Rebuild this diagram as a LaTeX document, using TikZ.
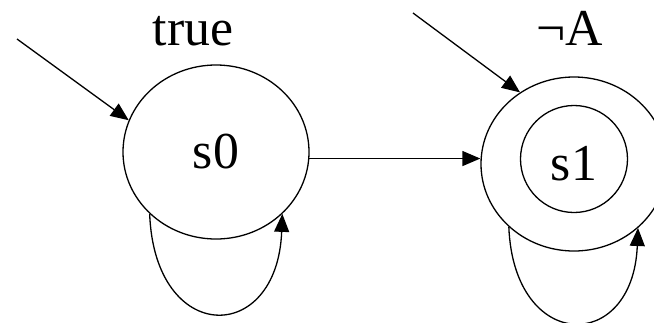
\documentclass[tikz,border=0pt]{standalone}
\usepackage{fontspec}
\setmainfont{Liberation Serif}
\usetikzlibrary{shapes.geometric, arrows.meta}

\begin{document}
\begin{tikzpicture}[x=1bp, y=-1bp, line width=1.3bp,
    font=\fontsize{52}{62}\selectfont,
    >={Triangle[length=18bp, width=15bp]},
    state/.style={ellipse, draw, inner sep=0pt, minimum width=186bp, minimum height=174bp},
    ring/.style={circle, draw, inner sep=0pt, minimum size=107bp}]
    \clip (0,0) rectangle (654,322);

    % Draw nodes
    \node[state] (s0) at (216,152) {s0};
    \node[state] (s1) at (574,164) {s1};
    \node[ring] (s1in) at (574,159) {};

    % Start points of the initial arrows
    \coordinate (in0) at (17,39);
    \coordinate (in1) at (413,13);

    % Draw connections
    \draw[->] (in0) -- (s0.160);
    \draw[->] (in1) -- (s1.127);
    \draw[->] (s0.-4) -- (s0.-4 -| s1.west);
    \draw[->] (s0.223) .. controls +(5,132) and +(-5,132) .. (s0.317);
    \draw[->] (s1.224) .. controls +(5,126) and +(-5,126) .. (s1.315);

    % Labels
    \node[anchor=base] (l0) at (193,45) {true};
    \node[anchor=base] (l1) at (570,45) {¬A};
\end{tikzpicture}
\end{document}
